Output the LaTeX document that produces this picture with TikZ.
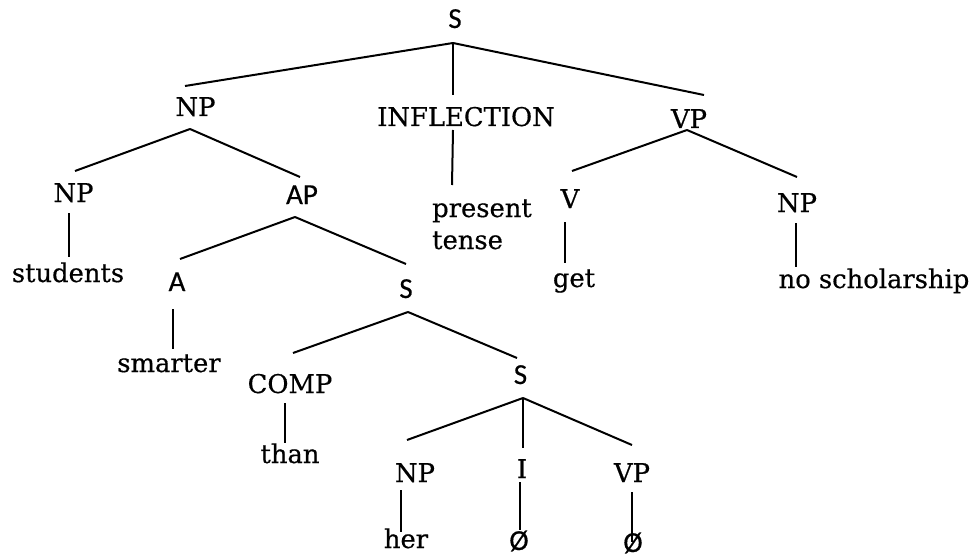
\documentclass[tikz,border=0pt]{standalone}
\usepackage{fontspec}
\setmainfont[FakeBold=0.5]{DejaVu Serif}
\newfontfamily\carl[FakeBold=0.5]{Carlito}
\begin{document}
\begin{tikzpicture}[x=1pt,y=-1pt,
  lbl/.style={anchor=base,inner sep=0pt,font=\fontsize{25.8}{31}\selectfont},
  slbl/.style={anchor=base,inner sep=0pt,font=\carl\fontsize{29}{34}\selectfont},
  edge/.style={line width=2pt}]
\useasboundingbox (0,0) rectangle (974,559);
% nodes
\node[slbl] (S) at (455,28) {S};
\node[lbl] (NP1) at (195.5,116) {NP};
\node[lbl] (INFL) at (466,126) {INFLECTION};
\node[lbl] (VP1) at (689,128) {VP};
\node[lbl] (NP2) at (73.5,202) {NP};
\node[slbl] (AP) at (302,204) {AP};
\node[lbl,anchor=base west] (pres) at (432,217) {present};
\node[lbl,anchor=base west] (tense) at (432,249) {tense};
\node[lbl] (V) at (570,208) {V};
\node[lbl] (NP3) at (797,212) {NP};
\node[lbl] (students) at (68,282) {students};
\node[slbl] (A) at (177,291) {A};
\node[slbl] (S2) at (406,298) {S};
\node[lbl] (get) at (574,287) {get};
\node[lbl] (nosch) at (874,288) {no scholarship};
\node[lbl] (smarter) at (169,372) {smarter};
\node[lbl] (COMP) at (290,393) {COMP};
\node[slbl] (S3) at (520.5,384) {S};
\node[lbl] (than) at (290,463) {than};
\node[lbl] (NP4) at (415,482) {NP};
\node[lbl] (I) at (522,478) {I};
\node[lbl] (VP4) at (632,482) {VP};
\node[lbl] (her) at (406,548) {her};
\node[slbl] (nul1) at (519,550) {Ø};
\node[slbl] (nul2) at (633,552) {Ø};
% edges
\draw[edge] ([shift={(-2,15)}]S.base) -- ([shift={(-10.5,-30)}]NP1.base);
\draw[edge] ([shift={(-2,15)}]S.base) -- ([shift={(-13,-31)}]INFL.base);
\draw[edge] ([shift={(-2,15)}]S.base) -- ([shift={(15,-33)}]VP1.base);
\draw[edge] ([shift={(-5.5,13)}]NP1.base) -- ([shift={(1.5,-31)}]NP2.base);
\draw[edge] ([shift={(-5.5,13)}]NP1.base) -- ([shift={(-2,-27)}]AP.base);
\draw[edge] ([shift={(-4.5,11)}]NP2.base) -- ([shift={(1,-25)}]students.base);
\draw[edge] ([shift={(-7,13)}]AP.base) -- ([shift={(3,-32)}]A.base);
\draw[edge] ([shift={(-7,13)}]AP.base) -- ([shift={(0,-34)}]S2.base);
\draw[edge] ([shift={(-4,18)}]A.base) -- ([shift={(4,-23)}]smarter.base);
\draw[edge] ([shift={(2,14)}]S2.base) -- ([shift={(3,-40)}]COMP.base);
\draw[edge] ([shift={(2,14)}]S2.base) -- ([shift={(-3.5,-26)}]S3.base);
\draw[edge] ([shift={(-5,10)}]COMP.base) -- ([shift={(-5,-20)}]than.base);
\draw[edge] ([shift={(2.5,14)}]S3.base) -- ([shift={(-8,-42)}]NP4.base);
\draw[edge] ([shift={(2.5,14)}]S3.base) -- ([shift={(1,-30)}]I.base);
\draw[edge] ([shift={(2.5,14)}]S3.base) -- ([shift={(0,-37)}]VP4.base);
\draw[edge] ([shift={(-14,8)}]NP4.base) -- ([shift={(-5,-16)}]her.base);
\draw[edge] ([shift={(-2,4)}]I.base) -- ([shift={(1,-20)}]nul1.base);
\draw[edge] ([shift={(0,10)}]VP4.base) -- ([shift={(-1,-10)}]nul2.base);
\draw[edge] ([shift={(-13,4)}]INFL.base) -- ([shift={(20,-32)}]pres.base west);
\draw[edge] ([shift={(-2,2)}]VP1.base) -- ([shift={(2,-37)}]V.base);
\draw[edge] ([shift={(-2,2)}]VP1.base) -- ([shift={(0,-35)}]NP3.base);
\draw[edge] ([shift={(-5,14)}]V.base) -- ([shift={(-9,-24)}]get.base);
\draw[edge] ([shift={(-1,11)}]NP3.base) -- ([shift={(-78,-21)}]nosch.base);
\end{tikzpicture}
\end{document}
